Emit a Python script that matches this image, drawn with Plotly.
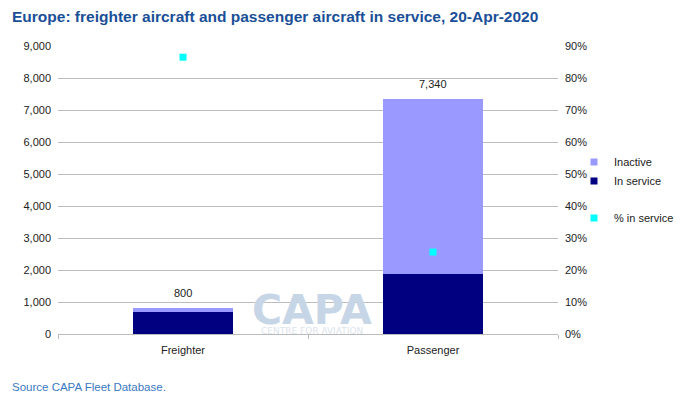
import plotly.graph_objects as go

# --------------------------------------------
# DATA
# --------------------------------------------
categories = ["Freighter", "Passenger"]
in_service = [690, 1880]
inactive = [110, 5460]
pct_in_service = [0.865, 0.256]
total_labels = ["800", "7,340"]

left_ticks = list(range(0, 9001, 1000))
right_ticks = [i / 10 for i in range(0, 10)]

TITLE = "Europe: freighter aircraft and passenger aircraft in service, 20-Apr-2020"
SOURCE = "Source CAPA Fleet Database."

FONT = "Liberation Sans, Arial, sans-serif"
C_IN = "#000080"
C_INACTIVE = "#9999ff"
C_PCT = "#00ffff"

# --------------------------------------------
# TRACES
# --------------------------------------------
fig = go.Figure()

fig.add_trace(go.Bar(
    x=categories, y=in_service, name="In service",
    marker=dict(color=C_IN, line=dict(width=0)),
    width=0.4, showlegend=False,
))
fig.add_trace(go.Bar(
    x=categories, y=inactive, name="Inactive",
    marker=dict(color=C_INACTIVE, line=dict(width=0)),
    width=0.4, showlegend=False,
))
fig.add_trace(go.Scatter(
    x=categories, y=pct_in_service, name="% in service", yaxis="y2",
    mode="markers", marker=dict(symbol="square", size=7, color=C_PCT),
    showlegend=False,
))

# legend entries with small square swatches
legend_items = [("Inactive", C_INACTIVE, "bars", 1),
                ("In service", C_IN, "bars", 2),
                ("% in service", C_PCT, "pct", 3)]
for name, color, group, rank in legend_items:
    fig.add_trace(go.Scatter(
        x=[None], y=[None], name=name, mode="markers",
        marker=dict(symbol="square", size=7, color=color),
        legendgroup=group, legendrank=rank, hoverinfo="skip",
    ))

# total labels above stacks
totals = [a + b for a, b in zip(in_service, inactive)]
for cat, tot, lab in zip(categories, totals, total_labels):
    fig.add_annotation(
        x=cat, y=tot, text=lab, showarrow=False,
        yanchor="bottom", yshift=7,
        font=dict(family=FONT, size=11, color="#222"),
    )

# watermark
fig.add_annotation(
    xref="paper", yref="paper", x=0.508, y=0.082, text="<b>CAPA</b>",
    showarrow=False, font=dict(family="DejaVu Sans", size=41, color="#c7d6e6"),
    yanchor="middle",
)
fig.add_annotation(
    xref="paper", yref="paper", x=0.508, y=0.01, text="CENTRE FOR AVIATION",
    showarrow=False, font=dict(family="DejaVu Sans", size=9, color="#dce4ec"),
    yanchor="middle",
)

# title and source
fig.add_annotation(
    xref="paper", yref="paper", x=-0.096, y=1.102, xanchor="left", yanchor="middle",
    text="<b>" + TITLE + "</b>", showarrow=False,
    font=dict(family=FONT, size=15.5, color="#1a4f98"),
)
fig.add_annotation(
    xref="paper", yref="paper", x=-0.096, y=-0.185, xanchor="left", yanchor="middle",
    text=SOURCE, showarrow=False,
    font=dict(family=FONT, size=11.5, color="#3b78c2"),
)

# --------------------------------------------
# LAYOUT
# --------------------------------------------
fig.update_layout(
    width=674, height=393,
    margin=dict(l=50, r=124, t=38, b=67, autoexpand=False),
    barmode="stack",
    plot_bgcolor="white", paper_bgcolor="white",
    font=dict(family=FONT, size=11, color="#222"),
    showlegend=True,
    legend=dict(
        x=1.032, y=0.648, xanchor="left", yanchor="top",
        traceorder="grouped", tracegroupgap=18,
        font=dict(size=11, color="#222"), itemwidth=30,
        bgcolor="rgba(0,0,0,0)",
    ),
    xaxis=dict(
        showline=True, linecolor="#bbbbbb", linewidth=1,
        ticks="outside", tickson="boundaries", ticklen=4, tickcolor="#bbbbbb",
        showgrid=False, ticklabelstandoff=6,
    ),
    yaxis=dict(
        range=[0, 9000], tickvals=left_ticks, tickformat=",",
        showgrid=True, gridcolor="#bdbdbd", gridwidth=1,
        zeroline=False, ticks="", ticklabelstandoff=6,
    ),
    yaxis2=dict(
        range=[0, 0.9], tickvals=right_ticks, tickformat=".0%",
        overlaying="y", side="right", showgrid=False, zeroline=False,
        ticklabelstandoff=6,
    ),
)

fig.write_html("out.html")
